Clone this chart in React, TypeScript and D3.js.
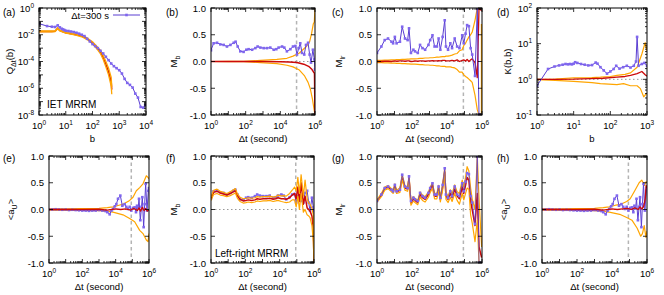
import React from "react";
import * as d3 from "d3";

type Pt = [number, number];

// (a) IET MRRM, points are [log10 b, log10 Q]
const qEmp: Pt[] = [
  [0, -1.17], [0.3, -1.35], [0.48, -1.4], [0.6, -1.42], [0.7, -1.3], [0.78, -1.45], [0.85, -1.55],
  [0.9, -1.6], [0.95, -1.65], [1.0, -1.7], [1.1, -1.72], [1.2, -1.76], [1.3, -1.8], [1.4, -1.85],
  [1.5, -1.92], [1.6, -2.0], [1.7, -2.1], [1.8, -2.3], [1.9, -2.5], [2.0, -2.7], [2.1, -2.85],
  [2.2, -3.0], [2.3, -3.2], [2.4, -3.4], [2.5, -3.65], [2.6, -3.9], [2.7, -4.15], [2.8, -4.35],
  [2.9, -4.5], [3.0, -4.65], [3.1, -4.9], [3.2, -5.3], [3.3, -5.6], [3.4, -5.75], [3.5, -5.95],
  [3.6, -6.4], [3.7, -6.7], [3.8, -7.4], [3.9, -7.45], [3.97, -7.25],
];
const qRed: Pt[] = [
  [0, -1.75], [0.3, -1.75], [0.48, -1.75], [0.6, -1.74], [0.7, -1.52], [0.78, -1.68], [0.9, -1.78],
  [1.0, -1.85], [1.2, -1.92], [1.4, -2.0], [1.6, -2.1], [1.8, -2.3], [2.0, -2.6], [2.2, -3.05],
  [2.3, -3.3], [2.4, -3.7], [2.5, -4.2], [2.6, -4.75], [2.7, -5.55], [2.72, -6.1],
];
const qHi: Pt[] = [
  [0, -1.72], [0.3, -1.72], [0.48, -1.72], [0.6, -1.71], [0.7, -1.48], [0.78, -1.65], [0.9, -1.75],
  [1.0, -1.82], [1.2, -1.88], [1.4, -1.96], [1.6, -2.05], [1.8, -2.24], [2.0, -2.52], [2.2, -2.95],
  [2.3, -3.18], [2.4, -3.55], [2.5, -4.0], [2.6, -4.5], [2.7, -5.2], [2.72, -5.9],
];
const qLo: Pt[] = [
  [0, -1.78], [0.3, -1.78], [0.48, -1.78], [0.6, -1.77], [0.7, -1.56], [0.78, -1.72], [0.9, -1.81],
  [1.0, -1.88], [1.2, -1.96], [1.4, -2.05], [1.6, -2.15], [1.8, -2.36], [2.0, -2.68], [2.2, -3.15],
  [2.3, -3.42], [2.4, -3.85], [2.5, -4.4], [2.6, -5.0], [2.7, -5.85], [2.72, -6.45],
];

// (b)/(f) M_b, log10 dt grid
const mbDt = [0, 0.15, 0.35, 0.54, 0.73, 0.92, 1.12, 1.31, 1.42, 1.54, 1.69, 1.88, 2.04, 2.17, 2.37,
  2.56, 2.69, 2.85, 3.04, 3.23, 3.42, 3.62, 3.77, 3.9, 4.1, 4.23, 4.38, 4.58, 4.73, 4.87, 4.96, 5.06,
  5.15, 5.25, 5.38, 5.48, 5.6, 5.69, 5.77, 5.88, 5.96, 6.0];
const mbEmp = [0.21, 0.34, 0.35, 0.32, 0.31, 0.28, 0.31, 0.35, 0.37, 0.28, 0.19, 0.18, 0.22, 0.23,
  0.22, 0.25, 0.28, 0.26, 0.25, 0.25, 0.26, 0.22, 0.23, 0.26, 0.28, 0.26, 0.19, 0.23, 0.28, 0.29, 0.13,
  0.25, 0.34, 0.16, 0.13, 0.31, 0.35, 0.13, -0.02, 0.22, 0.04, -0.15];
const mbRedIet: Pt[] = [[0, 0], [1, 0], [2, 0], [3, 0], [4, -0.005], [4.5, -0.01], [4.96, -0.02],
  [5.35, -0.05], [5.63, -0.09], [5.83, -0.15], [5.92, -0.2], [5.97, -0.22], [6.0, -1.0]];
const mbHiIet: Pt[] = [[0, 0], [1, 0.003], [1.88, 0.005], [2.85, 0.02], [3.8, 0.04], [4.38, 0.06],
  [4.73, 0.1], [5.1, 0.16], [5.5, 0.28], [5.69, 0.37], [5.8, 0.52], [5.9, 0.7], [5.96, 0.74], [6.0, 1.0]];
const mbLoIet: Pt[] = [[0, 0], [1, -0.003], [1.88, -0.005], [2.85, -0.02], [3.8, -0.04], [4.38, -0.07],
  [4.73, -0.1], [5.1, -0.16], [5.4, -0.27], [5.6, -0.39], [5.73, -0.51], [5.85, -0.7], [5.94, -0.88], [6.0, -1.0]];
const mbRedLr = [0.2, 0.32, 0.34, 0.31, 0.29, 0.27, 0.3, 0.33, 0.35, 0.25, 0.19, 0.16, 0.17, 0.18,
  0.17, 0.18, 0.2, 0.19, 0.2, 0.2, 0.21, 0.19, 0.2, 0.22, 0.2, 0.2, 0.19, 0.22, 0.27, 0.3, 0.2, 0.42,
  0.15, 0.5, 0.1, 0.25, 0.03, 0.0, -0.03, -0.12, -0.35, -1.0];
const mbHiLr = [0.23, 0.36, 0.38, 0.34, 0.32, 0.3, 0.33, 0.37, 0.39, 0.29, 0.23, 0.2, 0.21, 0.22,
  0.21, 0.22, 0.24, 0.23, 0.24, 0.24, 0.25, 0.23, 0.24, 0.27, 0.25, 0.26, 0.25, 0.3, 0.36, 0.42, 0.35,
  0.6, 0.3, 0.65, 0.25, 0.55, 0.2, 0.12, 0.1, 0.02, -0.1, -0.7];
const mbLoLr = [0.17, 0.28, 0.3, 0.27, 0.26, 0.24, 0.26, 0.29, 0.31, 0.21, 0.15, 0.12, 0.13, 0.14,
  0.13, 0.14, 0.16, 0.15, 0.16, 0.16, 0.17, 0.15, 0.16, 0.17, 0.15, 0.14, 0.13, 0.14, 0.18, 0.18, 0.05,
  0.25, 0.0, 0.3, -0.05, 0.0, -0.1, -0.12, -0.15, -0.3, -0.6, -1.0];

// (c)/(g) M_lr
const mlrDt = [0, 0.25, 0.44, 0.63, 0.83, 0.92, 1.02, 1.12, 1.31, 1.44, 1.6, 1.75, 1.83, 1.94, 2.08,
  2.17, 2.33, 2.46, 2.6, 2.75, 2.94, 3.04, 3.17, 3.29, 3.42, 3.52, 3.62, 3.75, 3.87, 3.94, 4.06, 4.19,
  4.29, 4.44, 4.58, 4.71, 4.87, 4.96, 5.06, 5.15, 5.25, 5.35, 5.44, 5.6, 5.73, 5.83, 5.98];
const mlrEmp = [0.16, 0.28, 0.4, 0.43, 0.37, 0.34, 0.46, 0.34, 0.37, 0.65, 0.43, 0.4, 0.62, 0.16,
  0.22, 0.19, 0.16, 0.31, 0.25, 0.22, 0.31, 0.4, 0.49, 0.28, 0.28, 0.43, 0.22, 0.46, 0.77, 0.28, 0.22,
  0.34, 0.25, 0.43, 0.28, 0.25, 0.49, 0.34, 0.52, 0.68, 0.66, 0.25, 0.13, -0.27, 1.0, -1.0, -1.0];
const mlrRedIet = [0, 0, 0.005, 0.005, 0, 0.005, 0.01, 0.005, 0.01, 0.01, 0.005, 0.01, 0.01, 0,
  0.005, 0.01, 0.005, 0.01, 0.01, 0.005, 0.01, 0.01, 0.015, 0.01, 0.01, 0.015, 0.01, 0.02, 0.02, 0.01,
  0.01, 0.015, 0.02, 0.01, 0.03, 0, 0.02, 0.03, 0.01, 0.04, 0, 0.03, 0.05, -0.02, -0.3, 1.0, 0.95];
const mlrHiIet = [0.02, 0.02, 0.025, 0.025, 0.03, 0.03, 0.03, 0.035, 0.035, 0.04, 0.04, 0.045,
  0.045, 0.05, 0.05, 0.05, 0.055, 0.06, 0.06, 0.065, 0.065, 0.07, 0.07, 0.075, 0.08, 0.08, 0.085, 0.09,
  0.09, 0.1, 0.1, 0.11, 0.12, 0.14, 0.15, 0.2, 0.22, 0.3, 0.34, 0.4, 0.46, 0.5, 0.55, 0.77, 1.0, 1.0, 1.0];
const mlrLoIet = [-0.02, -0.02, -0.025, -0.025, -0.03, -0.03, -0.03, -0.035, -0.035, -0.04, -0.04,
  -0.045, -0.045, -0.05, -0.05, -0.05, -0.055, -0.06, -0.06, -0.065, -0.065, -0.07, -0.07, -0.075,
  -0.08, -0.08, -0.085, -0.09, -0.09, -0.1, -0.1, -0.1, -0.11, -0.12, -0.15, -0.2, -0.2, -0.25, -0.28,
  -0.3, -0.33, -0.36, -0.39, -0.63, -0.9, -1.0, -1.0];
const mlrEdgeIet: Pt[] = [[5.99, -1.0], [5.99, 0.7]];
const mlrRedLr = [0.16, 0.27, 0.39, 0.42, 0.36, 0.33, 0.44, 0.33, 0.36, 0.6, 0.4, 0.38, 0.58, 0.12,
  0.2, 0.17, 0.13, 0.28, 0.22, 0.19, 0.28, 0.37, 0.45, 0.25, 0.25, 0.4, 0.19, 0.42, 0.7, 0.25, 0.19,
  0.3, 0.22, 0.38, 0.25, 0.2, 0.42, 0.3, 0.45, 0.6, 0.55, 0.15, 0.0, -0.3, 0.3, -0.7, -0.9];
const mlrHiLr = [0.18, 0.3, 0.42, 0.45, 0.39, 0.36, 0.48, 0.36, 0.4, 0.65, 0.44, 0.42, 0.63, 0.16,
  0.24, 0.21, 0.17, 0.33, 0.27, 0.24, 0.33, 0.42, 0.5, 0.3, 0.3, 0.45, 0.24, 0.48, 0.77, 0.31, 0.25,
  0.37, 0.29, 0.46, 0.33, 0.3, 0.55, 0.42, 0.6, 0.8, 0.72, 0.4, 0.2, 0.0, 1.0, 0.2, -0.7];
const mlrLoLr = [0.14, 0.24, 0.36, 0.39, 0.33, 0.3, 0.4, 0.3, 0.32, 0.55, 0.36, 0.34, 0.53, 0.08,
  0.16, 0.13, 0.09, 0.23, 0.17, 0.14, 0.23, 0.32, 0.4, 0.2, 0.2, 0.35, 0.14, 0.36, 0.63, 0.19, 0.13,
  0.23, 0.15, 0.3, 0.17, 0.1, 0.3, 0.18, 0.3, 0.4, 0.38, -0.1, -0.25, -0.6, -0.2, -1.0, -1.0];

// (d) K(b,b), points are [log10 b, log10 K]
const kEmp: Pt[] = [
  [0, -0.18], [0.301, 0.29], [0.477, 0.36], [0.602, 0.39], [0.699, 0.41], [0.778, 0.43], [0.845, 0.42],
  [0.903, 0.43], [0.954, 0.42], [1.0, 0.44], [1.04, 0.48], [1.1, 0.46], [1.2, 0.43], [1.3, 0.41],
  [1.4, 0.39], [1.5, 0.4], [1.6, 0.47], [1.65, 0.44], [1.73, 0.34], [1.82, 0.25], [1.91, 0.16],
  [2.0, 0.22], [2.09, 0.29], [2.16, 0.38], [2.25, 0.3], [2.35, 0.34], [2.45, 0.38], [2.55, 0.33],
  [2.64, 0.38], [2.7, 0.5], [2.73, 1.19], [2.77, 0.38], [2.86, 0.43], [2.93, 0.46], [3.0, 0.38],
];
const kRed: Pt[] = [[0, 0], [0.5, 0], [1, 0.005], [1.45, 0.02], [1.8, 0.03], [2.18, 0.06], [2.4, 0.08],
  [2.55, 0.11], [2.73, 0.16], [2.86, 0.22], [2.95, 0.13], [3.0, 0.09]];
const kHi: Pt[] = [[0, 0], [0.5, 0.01], [1, 0.04], [1.5, 0.05], [1.73, 0.06], [2.0, 0.08], [2.18, 0.11],
  [2.4, 0.14], [2.55, 0.18], [2.73, 0.34], [2.86, 0.71], [2.95, 1.03], [3.0, 0.8]];
const kLo: Pt[] = [[0, -0.01], [0.5, -0.03], [1, -0.06], [1.5, -0.09], [1.73, -0.12], [2.18, -0.15],
  [2.36, -0.12], [2.55, -0.18], [2.73, -0.18], [2.82, -0.26], [2.91, -0.49], [2.95, -0.44], [3.0, -0.39]];

// (e)/(h) <a_U>
const auEmp: Pt[] = [
  [0, 0], [0.2, 0], [0.4, 0.005], [0.6, 0], [0.8, -0.005], [1.0, 0], [1.2, -0.01], [1.4, -0.005],
  [1.6, -0.01], [1.8, -0.015], [2.0, -0.02], [2.2, -0.02], [2.4, -0.025], [2.6, -0.02], [2.8, -0.02],
  [3.0, -0.01], [3.2, -0.02], [3.4, -0.03], [3.5, -0.05], [3.64, -0.09], [3.75, -0.02], [3.84, 0.01],
  [3.95, 0.06], [4.04, 0.1], [4.14, 0.2], [4.28, 0.26], [4.4, 0.07], [4.54, 0.1], [4.64, 0.05],
  [4.74, 0.01], [4.84, 0.05], [4.94, -0.02], [5.04, 0.03], [5.14, 0.04], [5.22, -0.05], [5.28, 0.07],
  [5.35, 0.02], [5.4, 0.2], [5.48, -0.2], [5.55, 0.05], [5.6, 0.23], [5.68, -0.33], [5.74, 0.1],
  [5.8, 0.48], [5.88, -0.02], [5.96, 0.35], [6.0, 0.4],
];
const auRedIet: Pt[] = [[0, 0], [1, 0], [2, 0], [3, 0.005], [3.5, -0.01], [4, 0.01], [4.3, 0], [4.6, 0.01],
  [4.9, -0.01], [5.1, 0.02], [5.3, -0.02], [5.4, 0.03], [5.5, -0.03], [5.6, 0.04], [5.7, -0.02],
  [5.8, 0.02], [5.9, -0.03], [6.0, 0]];
const auHiIet: Pt[] = [[0, 0.01], [1, 0.012], [2, 0.015], [3, 0.02], [3.5, 0.035], [3.84, 0.05], [4.2, 0.08],
  [4.44, 0.1], [4.84, 0.17], [5.04, 0.23], [5.24, 0.35], [5.44, 0.41], [5.64, 0.48], [5.84, 0.63],
  [5.94, 0.6], [6.0, 0.57]];
const auLoIet: Pt[] = [[0, -0.01], [1, -0.012], [2, -0.015], [3, -0.02], [3.5, -0.035], [3.84, -0.05],
  [4.44, -0.1], [4.84, -0.17], [5.14, -0.23], [5.44, -0.39], [5.64, -0.45], [5.84, -0.57], [5.94, -0.6],
  [6.0, -0.45]];
const auRedLr: Pt[] = [[0, 0], [1, 0], [2, 0], [3, 0.005], [3.5, -0.01], [4, 0.01], [4.3, 0], [4.6, 0.01],
  [4.9, 0.02], [5.1, 0], [5.3, 0.03], [5.5, 0], [5.6, 0.05], [5.7, 0.01], [5.8, 0.05], [5.9, 0.2],
  [5.95, 0.45], [6.0, 0.4]];
const auHiLr: Pt[] = [[0, 0.01], [1, 0.012], [2, 0.015], [3, 0.02], [3.5, 0.035], [3.84, 0.05], [4.2, 0.08],
  [4.44, 0.09], [4.84, 0.15], [5.04, 0.2], [5.3, 0.35], [5.55, 0.5], [5.7, 0.55], [5.85, 0.45],
  [5.95, 0.52], [6.0, 0.5]];
const auLoLr: Pt[] = [[0, -0.01], [1, -0.012], [2, -0.015], [3, -0.02], [3.5, -0.035], [3.84, -0.05],
  [4.44, -0.09], [4.84, -0.15], [5.14, -0.2], [5.44, -0.35], [5.64, -0.5], [5.74, -0.45], [5.84, -0.3],
  [5.94, -0.52], [6.0, -0.4]];

const oneDay = 86400;

const PURPLE = "#5a3ed2";
const MARK = "#7f66ee";
const ORANGE = "#ffa500";
const RED = "#cc0a0a";
const FONT = "'Liberation Sans', Arial, sans-serif";

const zip = (xs: number[], ys: number[]): Pt[] => xs.map((v, i) => [v, ys[i]] as Pt);

type Series = { pts: Pt[]; color: string; w: number; marks?: boolean };
type Spec = {
  id: string; l: number; r: number; t: number; b: number;
  xd: [number, number]; xLabels: number[];
  ylog: boolean; yd: [number, number]; yLabels: number[];
  tag: string; tagX: number; tagY: number;
  ylab: React.ReactNode; ylx: number; xlab: React.ReactNode;
  vline?: number; hline?: number;
  series: Series[];
  note?: [string, number, number];
  legend?: boolean;
};

const sup = (e: number) => (
  <>10<tspan dy={-4} fontSize={6.5}>{e}</tspan></>
);

function Panel({ s }: { s: Spec }) {
  const x = d3.scaleLog().domain([10 ** s.xd[0], 10 ** s.xd[1]]).range([s.l, s.r]);
  const y = s.ylog
    ? d3.scaleLog().domain([10 ** s.yd[0], 10 ** s.yd[1]]).range([s.b, s.t])
    : d3.scaleLinear().domain(s.yd).range([s.b, s.t]);
  const fx = (v: number) => x(10 ** v);
  const fy = (v: number) => y(s.ylog ? 10 ** v : v);
  const line = d3.line<Pt>().x(d => fx(d[0])).y(d => fy(d[1]));
  const isMajor = (v: number) => Math.abs(Math.log10(v) - Math.round(Math.log10(v))) < 1e-9;
  const xt = x.ticks();
  const yt = s.ylog ? (y as d3.ScaleLogarithmic<number, number>).ticks() : y.ticks(4);
  const midY = (s.t + s.b) / 2;
  const bl = s.b + 14;

  return (
    <g>
      <defs>
        <clipPath id={"c" + s.id}>
          <rect x={s.l} y={s.t} width={s.r - s.l} height={s.b - s.t} />
        </clipPath>
      </defs>
      {s.hline !== undefined && (
        <line x1={s.l} x2={s.r} y1={fy(s.hline)} y2={fy(s.hline)} stroke="#999" strokeWidth={1} strokeDasharray="1.5,2.5" />
      )}
      {s.vline !== undefined && (
        <line x1={x(s.vline)} x2={x(s.vline)} y1={s.t} y2={s.b} stroke="#b4b4b4" strokeWidth={1.5} strokeDasharray="3.5,3" />
      )}
      <g clipPath={`url(#c${s.id})`}>
        {s.series.map((ser, i) => (
          <g key={i}>
            <path d={line(ser.pts) || ""} fill="none" stroke={ser.color} strokeWidth={ser.w} strokeLinejoin="round" />
            {ser.marks && ser.pts.map((d, j) => (
              <rect key={j} x={fx(d[0]) - 1.3} y={fy(d[1]) - 1.3} width={2.6} height={2.6} fill={MARK} />
            ))}
          </g>
        ))}
      </g>
      <rect x={s.l} y={s.t} width={s.r - s.l} height={s.b - s.t} fill="none" stroke="#000" strokeWidth={1} />
      {xt.map((v, i) => {
        const len = isMajor(v) ? 4 : 2;
        const px = x(v);
        return (
          <g key={"x" + i} stroke="#000" strokeWidth={0.8}>
            <line x1={px} x2={px} y1={s.b} y2={s.b - len} />
            <line x1={px} x2={px} y1={s.t} y2={s.t + len} />
          </g>
        );
      })}
      {yt.map((v, i) => {
        const len = !s.ylog || isMajor(v) ? 4 : 2;
        const py = y(v);
        return (
          <g key={"y" + i} stroke="#000" strokeWidth={0.8}>
            <line x1={s.l} x2={s.l + len} y1={py} y2={py} />
            <line x1={s.r} x2={s.r - len} y1={py} y2={py} />
          </g>
        );
      })}
      <g fontFamily={FONT} fontSize={9.5} fill="#000">
        {s.xLabels.map(e => (
          <text key={"xl" + e} x={fx(e)} y={bl} textAnchor="middle">{sup(e)}</text>
        ))}
        {s.yLabels.map(v => (
          <text key={"yl" + v} x={s.l - 5} y={fy(v) + 3.5} textAnchor="end">
            {s.ylog ? sup(v) : v.toFixed(1)}
          </text>
        ))}
        <text x={(s.l + s.r) / 2} y={s.b + 27} textAnchor="middle">{s.xlab}</text>
        <text transform={`translate(${s.ylx},${midY}) rotate(-90)`} textAnchor="middle">{s.ylab}</text>
        <text x={s.tagX} y={s.tagY} fontSize={10}>{s.tag}</text>
        {s.note && <text x={s.note[1]} y={s.note[2]} fontSize={10}>{s.note[0]}</text>}
        {s.legend && (
          <g>
            <text x={109} y={18.5} textAnchor="end">Δt=300 s</text>
            <line x1={113} x2={140} y1={15} y2={15} stroke={PURPLE} strokeWidth={1} />
            <rect x={125.2} y={13.7} width={2.6} height={2.6} fill={MARK} />
          </g>
        )}
      </g>
    </g>
  );
}

const dtLab = <>Δt (second)</>;
const sub = (t: string) => <tspan dy={3} fontSize={7}>{t}</tspan>;

function buildSpecs(): Spec[] {
  const top = 8, bot = 115, top2 = 156, bot2 = 263;
  const dtBase = { xd: [0, 6] as [number, number], xLabels: [0, 2, 4, 6], ylog: false, yd: [-1, 1] as [number, number], yLabels: [-1, -0.5, 0, 0.5, 1], vline: oneDay, hline: 0, xlab: dtLab };
  return [
    {
      id: "a", l: 39, r: 146, t: top, b: bot, xd: [0, 4], xLabels: [0, 1, 2, 3, 4],
      ylog: true, yd: [-8, 0], yLabels: [0, -2, -4, -6, -8],
      tag: "(a)", tagX: 3, tagY: 16, ylab: <>Q{sub("Δt")}<tspan dy={-3}>(b)</tspan></>, ylx: 13, xlab: <>b</>,
      series: [
        { pts: qRed, color: RED, w: 1.5 },
        { pts: qHi, color: ORANGE, w: 1.3 },
        { pts: qLo, color: ORANGE, w: 1.3 },
        { pts: qEmp, color: PURPLE, w: 1, marks: true },
      ],
      note: ["IET MRRM", 47, 108], legend: true,
    },
    {
      ...dtBase, id: "b", l: 211, r: 315, t: top, b: bot, tag: "(b)", tagX: 166, tagY: 16,
      ylab: <>M{sub("b")}</>, ylx: 177,
      series: [
        { pts: mbHiIet, color: ORANGE, w: 1.2 },
        { pts: mbLoIet, color: ORANGE, w: 1.2 },
        { pts: mbRedIet, color: RED, w: 1.5 },
        { pts: zip(mbDt, mbEmp), color: PURPLE, w: 1, marks: true },
      ],
    },
    {
      ...dtBase, id: "c", l: 377, r: 482, t: top, b: bot, tag: "(c)", tagX: 332, tagY: 16,
      ylab: <>M{sub("lr")}</>, ylx: 342,
      series: [
        { pts: zip(mlrDt, mlrHiIet), color: ORANGE, w: 1.2 },
        { pts: zip(mlrDt, mlrLoIet), color: ORANGE, w: 1.2 },
        { pts: mlrEdgeIet, color: ORANGE, w: 2 },
        { pts: zip(mlrDt, mlrRedIet), color: RED, w: 1.3 },
        { pts: zip(mlrDt, mlrEmp), color: PURPLE, w: 1, marks: true },
      ],
    },
    {
      id: "d", l: 537, r: 647, t: top, b: bot, xd: [0, 3], xLabels: [0, 1, 2, 3],
      ylog: true, yd: [-1, 2], yLabels: [2, 1, 0, -1], hline: 0,
      tag: "(d)", tagX: 497, tagY: 16, ylab: <>K(b,b)</>, ylx: 511, xlab: <>b</>,
      series: [
        { pts: kHi, color: ORANGE, w: 1.2 },
        { pts: kLo, color: ORANGE, w: 1.2 },
        { pts: kRed, color: RED, w: 1.3 },
        { pts: kEmp, color: PURPLE, w: 1, marks: true },
      ],
    },
    {
      ...dtBase, id: "e", l: 49, r: 149, t: top2, b: bot2, tag: "(e)", tagX: 3, tagY: 162,
      ylab: <>{"<a"}{sub("U")}<tspan dy={-3}>{">"}</tspan></>, ylx: 14,
      series: [
        { pts: auHiIet, color: ORANGE, w: 1.2 },
        { pts: auLoIet, color: ORANGE, w: 1.2 },
        { pts: auEmp, color: PURPLE, w: 1, marks: true },
        { pts: auRedIet, color: RED, w: 1.3 },
      ],
    },
    {
      ...dtBase, id: "f", l: 211, r: 314, t: top2, b: bot2, tag: "(f)", tagX: 166, tagY: 162,
      ylab: <>M{sub("b")}</>, ylx: 177,
      series: [
        { pts: zip(mbDt, mbEmp), color: PURPLE, w: 1, marks: true },
        { pts: zip(mbDt, mbRedLr), color: RED, w: 1.5 },
        { pts: zip(mbDt, mbHiLr), color: ORANGE, w: 1.2 },
        { pts: zip(mbDt, mbLoLr), color: ORANGE, w: 1.2 },
      ],
      note: ["Left-right MRRM", 215, 257],
    },
    {
      ...dtBase, id: "g", l: 377, r: 482, t: top2, b: bot2, tag: "(g)", tagX: 332, tagY: 162,
      ylab: <>M{sub("lr")}</>, ylx: 342,
      series: [
        { pts: zip(mlrDt, mlrRedLr), color: RED, w: 1.5 },
        { pts: zip(mlrDt, mlrHiLr), color: ORANGE, w: 1.2 },
        { pts: zip(mlrDt, mlrLoLr), color: ORANGE, w: 1.2 },
        { pts: zip(mlrDt, mlrEmp), color: PURPLE, w: 0.8, marks: true },
      ],
    },
    {
      ...dtBase, id: "h", l: 542, r: 647, t: top2, b: bot2, tag: "(h)", tagX: 497, tagY: 162,
      ylab: <>{"<a"}{sub("U")}<tspan dy={-3}>{">"}</tspan></>, ylx: 507,
      series: [
        { pts: auHiLr, color: ORANGE, w: 1.2 },
        { pts: auLoLr, color: ORANGE, w: 1.2 },
        { pts: auEmp, color: PURPLE, w: 1, marks: true },
        { pts: auRedLr, color: RED, w: 1.3 },
      ],
    },
  ];
}

export default function App() {
  const specs = buildSpecs();
  return (
    <svg width={664} height={295} style={{ position: "absolute", left: 0, top: 0, background: "#fff" }}>
      {specs.map(s => <Panel key={s.id} s={s} />)}
    </svg>
  );
}
